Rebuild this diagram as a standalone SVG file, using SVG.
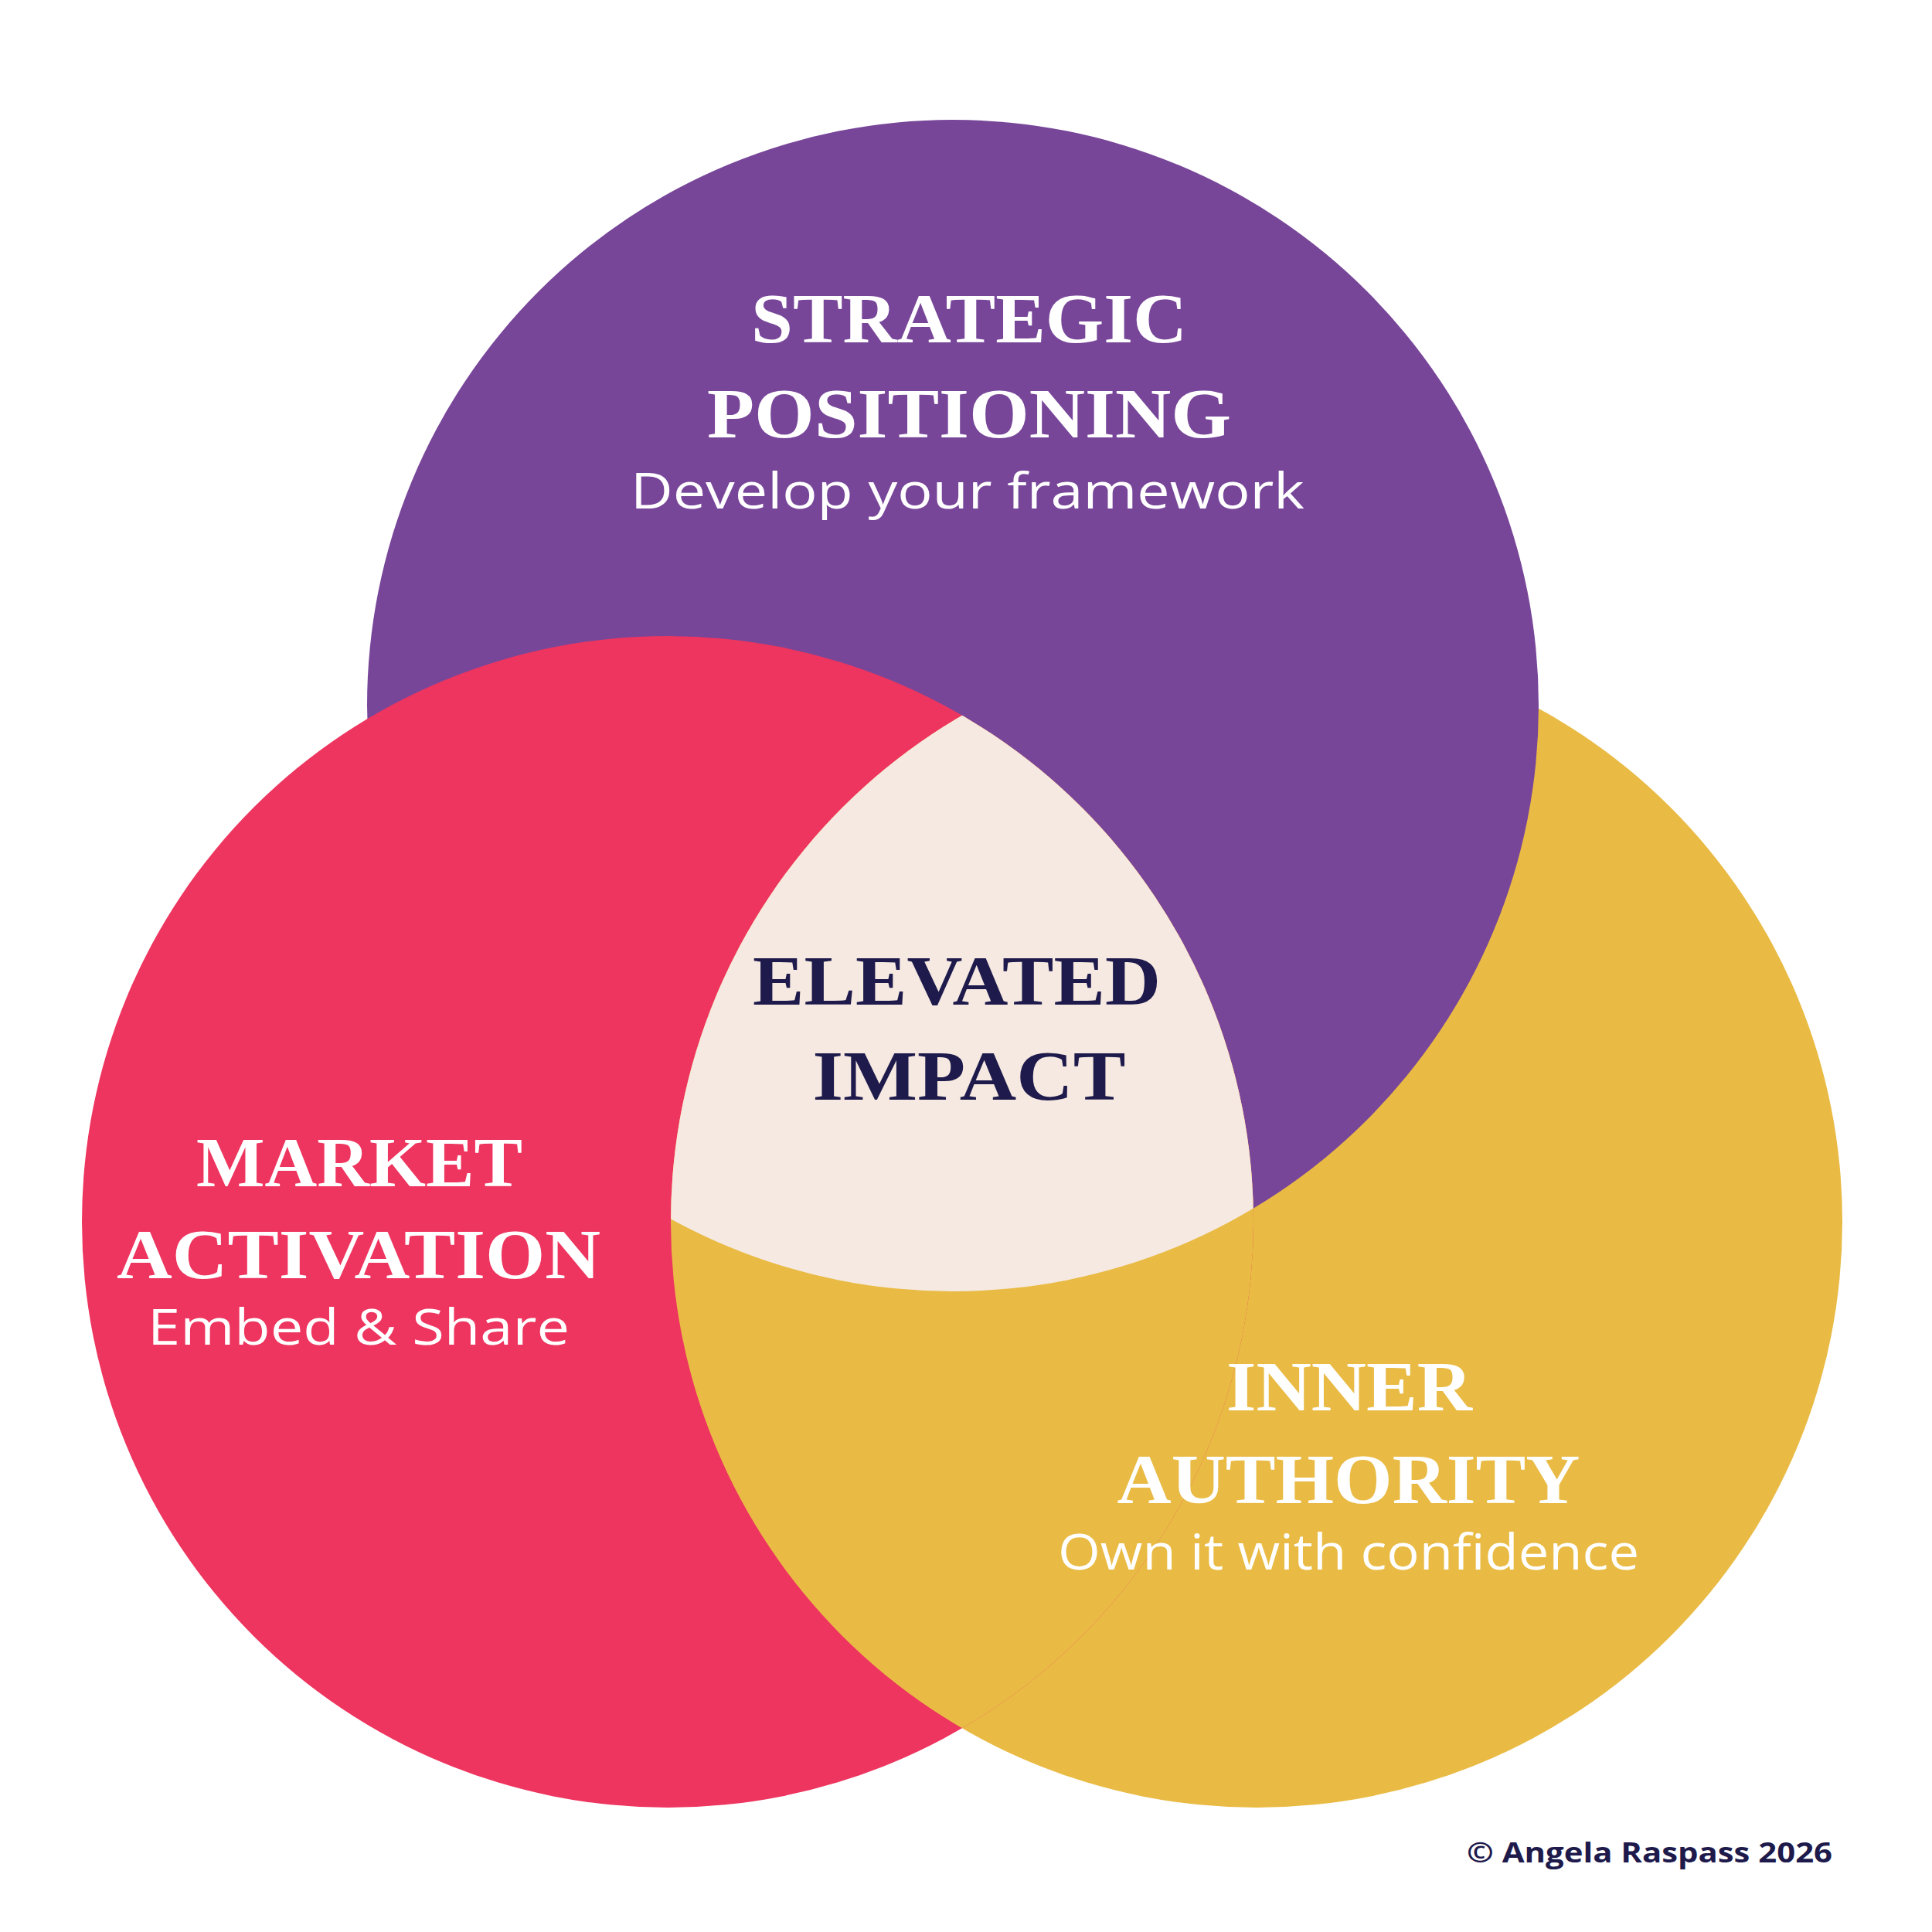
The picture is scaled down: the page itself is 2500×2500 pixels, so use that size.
<svg xmlns="http://www.w3.org/2000/svg" width="2500" height="2500" viewBox="0 0 2500 2500">
<style>
.h{font-family:"Liberation Serif",serif;font-weight:bold;text-anchor:middle;font-size:92px;fill:#fff}
.s{font-family:"Open Sans","Liberation Sans",sans-serif;text-anchor:middle;font-size:64px;fill:#fff}
.c{fill:#1E1A4B}
</style>
<defs>
<clipPath id="cpRed"><circle cx="864" cy="1581" r="758"/></clipPath>
<clipPath id="cpPurple"><circle cx="1233" cy="913" r="758"/></clipPath>
</defs>
<rect width="2500" height="2500" fill="#fff"/>
<g id="inner-authority"><circle cx="1626" cy="1581" r="758" fill="#E9BB45"/></g>
<g id="strategic-positioning"><circle cx="1233" cy="913" r="758" fill="#784699"/></g>
<g id="market-activation"><circle cx="864" cy="1581" r="758" fill="#EE355F"/></g>
<g id="overlap-ry" clip-path="url(#cpRed)"><circle cx="1626" cy="1581" r="758" fill="#E9BB45"/></g>
<g id="elevated-impact">
<g clip-path="url(#cpRed)"><circle cx="1626" cy="1581" r="758" fill="#F5E9E1" clip-path="url(#cpPurple)"/></g>
</g>
<g id="connectors"/>
<g id="labels">
<text class="h" x="1254" y="443" textLength="564" lengthAdjust="spacingAndGlyphs">STRATEGIC</text>
<text class="h" x="1254" y="566" textLength="678" lengthAdjust="spacingAndGlyphs">POSITIONING</text>
<text class="s" x="1252" y="658" textLength="872" lengthAdjust="spacingAndGlyphs">Develop your framework</text>
<text class="h c" x="1238" y="1300" textLength="528" lengthAdjust="spacingAndGlyphs">ELEVATED</text>
<text class="h c" x="1254" y="1423" textLength="405" lengthAdjust="spacingAndGlyphs">IMPACT</text>
<text class="h" x="465" y="1535" textLength="422" lengthAdjust="spacingAndGlyphs">MARKET</text>
<text class="h" x="464" y="1654" textLength="626" lengthAdjust="spacingAndGlyphs">ACTIVATION</text>
<text class="s" x="464" y="1740" textLength="546" lengthAdjust="spacingAndGlyphs">Embed &amp; Share</text>
<text class="h" x="1746" y="1825" textLength="318" lengthAdjust="spacingAndGlyphs">INNER</text>
<text class="h" x="1745" y="1945" textLength="599" lengthAdjust="spacingAndGlyphs">AUTHORITY</text>
<text class="s" x="1745" y="2031" textLength="752" lengthAdjust="spacingAndGlyphs">Own it with confidence</text>
<text x="2371" y="2410" text-anchor="end" font-family="Open Sans,Liberation Sans,sans-serif" font-weight="bold" font-size="35" fill="#1E1A4B" textLength="473" lengthAdjust="spacingAndGlyphs">© Angela Raspass 2026</text>
</g>
</svg>
